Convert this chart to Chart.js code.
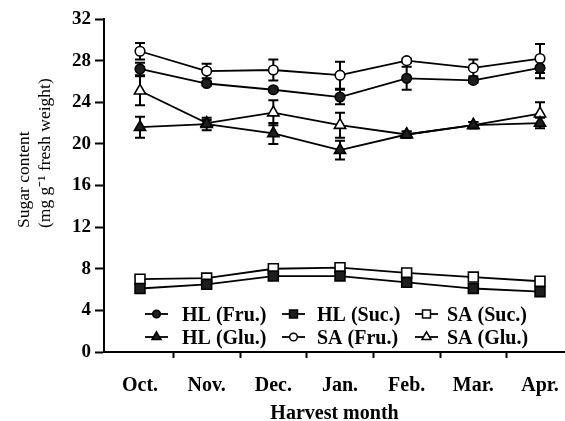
<!DOCTYPE html>
<html>
<head>
<meta charset="utf-8">
<script src="https://cdn.jsdelivr.net/npm/chart.js@4.4.1/dist/chart.umd.min.js"></script>
<style>
  html, body { margin: 0; padding: 0; background: #fff; }
  canvas { display: block; }
</style>
</head>
<body>
<canvas id="sugarChart" width="565" height="421"></canvas>
<script>
const months = ['Oct.', 'Nov.', 'Dec.', 'Jan.', 'Feb.', 'Mar.', 'Apr.'];
const yTicks = [0, 4, 8, 12, 16, 20, 24, 28, 32];

const hlFru = [27.2, 25.8, 25.2, 24.5, 26.3, 26.1, 27.3];
const hlFruErr = [0.6, 0.2, 0.2, 0.7, 1.1, 0.2, 1.0];
const saFru = [28.9, 27.0, 27.1, 26.6, 28.0, 27.3, 28.2];
const saFruErr = [0.8, 0.7, 1.0, 1.3, 0.2, 0.8, 1.4];
const hlGlu = [21.6, 21.9, 21.0, 19.4, 20.9, 21.8, 22.0];
const hlGluErr = [1.0, 0.6, 1.0, 0.9, 0.3, 0.3, 0.5];
const saGlu = [25.1, 22.0, 23.0, 21.8, 20.9, 21.8, 22.9];
const saGluErr = [1.4, 0.3, 1.2, 1.2, 0.3, 0.3, 1.1];
const hlSuc = [6.1, 6.5, 7.3, 7.3, 6.7, 6.1, 5.8];
const saSuc = [7.0, 7.1, 8.0, 8.1, 7.6, 7.2, 6.8];

const FONT = '"Liberation Serif", "Times New Roman", serif';

const toPoints = (vals) => vals.map((v, i) => ({x: i, y: v}));

function series(label, vals, errs, style, filled, radius) {
    return {
        label: label,
        data: toPoints(vals),
        errors: errs,
        borderColor: '#000',
        borderWidth: 1.8,
        tension: 0,
        pointStyle: style,
        pointRadius: radius,
        pointHoverRadius: radius,
        pointBackgroundColor: filled ? '#1e1e1e' : '#fff',
        pointBorderColor: '#000',
        pointBorderWidth: 1.6
    };
}

// legend is laid out row by row, three per row
const datasets = [
    series('HL (Fru.)', hlFru, hlFruErr, 'circle', true, 4.8),
    series('HL (Suc.)', hlSuc, null, 'rect', true, 7),
    series('SA (Suc.)', saSuc, null, 'rect', false, 7),
    series('HL (Glu.)', hlGlu, hlGluErr, 'triangle', true, 6.5),
    series('SA (Fru.)', saFru, saFruErr, 'circle', false, 4.8),
    series('SA (Glu.)', saGlu, saGluErr, 'triangle', false, 6.5)
];

const errorBars = {
    id: 'errorBars',
    beforeDatasetsDraw(chart) {
        const ctx = chart.ctx;
        const xs = chart.scales.x, ys = chart.scales.y;
        ctx.save();
        ctx.strokeStyle = '#000';
        ctx.lineWidth = 2;
        chart.data.datasets.forEach(ds => {
            if (!ds.errors) return;
            ds.data.forEach((p, i) => {
                const e = ds.errors[i];
                const x = xs.getPixelForValue(p.x);
                const top = ys.getPixelForValue(p.y + e);
                const bot = ys.getPixelForValue(p.y - e);
                ctx.beginPath();
                ctx.moveTo(x, top); ctx.lineTo(x, bot);
                ctx.moveTo(x - 5, top); ctx.lineTo(x + 5, top);
                ctx.moveTo(x - 5, bot); ctx.lineTo(x + 5, bot);
                ctx.stroke();
            });
        });
        ctx.restore();
    }
};

const lineLegend = {
    id: 'lineLegend',
    afterDraw(chart, args, opts) {
        const ctx = chart.ctx;
        ctx.save();
        ctx.font = opts.font;
        ctx.fillStyle = '#000';
        ctx.textBaseline = 'alphabetic';
        chart.data.datasets.forEach((ds, k) => {
            const col = k % 3, row = Math.floor(k / 3);
            const x0 = opts.sampleX[col];
            const y = opts.rowY[row];
            ctx.strokeStyle = '#000';
            ctx.lineWidth = 1.8;
            ctx.beginPath();
            ctx.moveTo(x0, y);
            ctx.lineTo(x0 + opts.sampleLength, y);
            ctx.stroke();
            ctx.fillStyle = ds.pointBackgroundColor;
            ctx.lineWidth = 1.5;
            Chart.helpers.drawPoint(ctx, {
                pointStyle: ds.pointStyle,
                radius: ds.pointRadius * 0.8,
                rotation: 0,
                borderWidth: 1.5
            }, x0 + opts.sampleLength / 2, y);
            ctx.fillStyle = '#000';
            ctx.fillText(ds.label, opts.textX[col], y + 7);
        });
        ctx.restore();
    }
};

const yTitle = {
    id: 'yTitle',
    afterDraw(chart, args, opts) {
        const ctx = chart.ctx;
        ctx.save();
        ctx.font = opts.font;
        ctx.fillStyle = '#000';
        ctx.textAlign = 'left';
        ctx.textBaseline = 'alphabetic';
        opts.lines.forEach((t, i) => {
            ctx.save();
            ctx.translate(opts.baselineX[i], opts.startY);
            ctx.rotate(-Math.PI / 2);
            ctx.fillText(t, 0, 0);
            ctx.restore();
        });
        ctx.restore();
    }
};

new Chart(document.getElementById('sugarChart'), {
    type: 'line',
    data: {datasets: datasets},
    plugins: [errorBars, lineLegend, yTitle],
    options: {
        responsive: false,
        animation: false,
        events: [],
        layout: {padding: {top: 19, left: 0, right: 0, bottom: 0}, autoPadding: false},
        plugins: {
            legend: {display: false},
            tooltip: {enabled: false},
            lineLegend: {
                font: 'bold 20px ' + FONT,
                sampleX: [145, 282, 415],
                textX: [182, 317, 447],
                rowY: [314, 337],
                sampleLength: 23
            },
            yTitle: {
                font: '17.5px ' + FONT,
                lines: ['Sugar content', '(mg g\u207B\u00B9 fresh weight)'],
                baselineX: [29, 50],
                startY: 228
            }
        },
        scales: {
            x: {
                type: 'linear',
                min: -0.54,
                max: 6.375,
                afterBuildTicks: (scale) => {
                    const t = [];
                    months.forEach((m, i) => {
                        t.push({value: i});
                        if (i < months.length - 1) t.push({value: i + 0.5});
                    });
                    scale.ticks = t;
                },
                afterFit: (scale) => {
                    scale.height = 69;
                    scale.paddingLeft = 0;
                    scale.paddingRight = 0;
                },
                ticks: {
                    autoSkip: false,
                    maxRotation: 0,
                    padding: 16,
                    color: '#000',
                    font: {family: FONT, size: 20, weight: 'bold'},
                    callback: (v) => Number.isInteger(v) ? months[v] : ''
                },
                grid: {
                    drawOnChartArea: false,
                    tickLength: 6,
                    tickWidth: 2,
                    tickColor: (c) => (c.tick && Number.isInteger(c.tick.value)) ? 'rgba(0,0,0,0)' : '#000'
                },
                border: {color: '#000', width: 2},
                title: {
                    display: true,
                    text: 'Harvest month',
                    color: '#000',
                    padding: 0,
                    font: {family: FONT, size: 20, weight: 'bold', lineHeight: 0.75}
                }
            },
            y: {
                min: 0,
                max: 32,
                afterBuildTicks: (scale) => { scale.ticks = yTicks.map(v => ({value: v})); },
                afterFit: (scale) => {
                    scale.width = 104;
                    scale.paddingTop = 0;
                    scale.paddingBottom = 0;
                },
                ticks: {
                    padding: 4,
                    color: '#000',
                    font: {family: FONT, size: 19, weight: 'bold'}
                },
                grid: {
                    drawOnChartArea: false,
                    tickLength: 9,
                    tickWidth: 2,
                    tickColor: '#000'
                },
                border: {color: '#000', width: 2}
            }
        }
    }
});
</script>
</body>
</html>
